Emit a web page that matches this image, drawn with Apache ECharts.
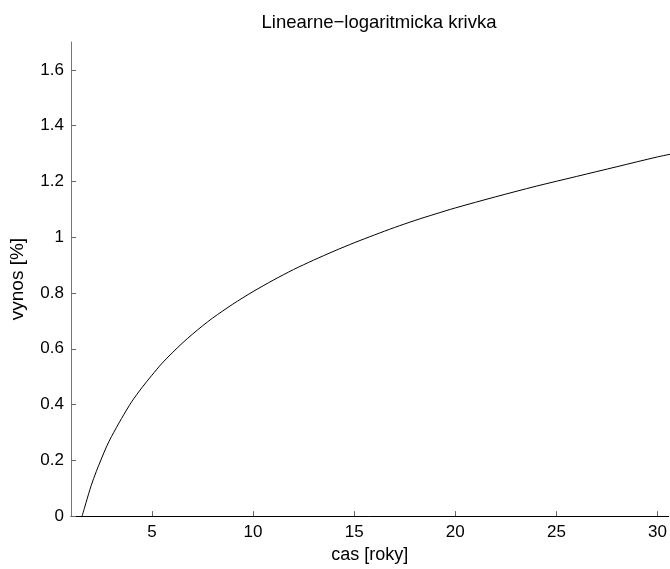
<!DOCTYPE html>
<html>
<head>
<meta charset="utf-8">
<script src="https://cdn.jsdelivr.net/npm/echarts@6/dist/echarts.min.js"></script>
<style>html,body{margin:0;padding:0;background:#fff}#c{width:670px;height:569px}</style>
</head>
<body>
<div id="c"></div>
<script>
var titleText = 'Linearne\u2212logaritmicka krivka';
var xName = 'cas [roky]';
var yName = 'vynos [%]';
var years = [1.55, 1.75, 2, 2.25, 2.5, 2.75, 3, 3.5, 4, 4.5, 5, 5.5, 6, 6.5, 7, 7.5, 8, 9, 10, 11, 12, 13, 14, 15, 16, 17, 18, 19, 20, 22, 24, 26, 28, 30, 31];
var yields = [0, 0.05, 0.11, 0.16, 0.205, 0.248, 0.285, 0.35, 0.41, 0.46, 0.505, 0.548, 0.585, 0.62, 0.652, 0.682, 0.71, 0.76, 0.805, 0.846, 0.884, 0.918, 0.95, 0.98, 1.008, 1.035, 1.06, 1.083, 1.105, 1.145, 1.183, 1.218, 1.253, 1.288, 1.303];
var xTicks = [5, 10, 15, 20, 25, 30];
var yTicks = [0, 0.2, 0.4, 0.6, 0.8, 1, 1.2, 1.4, 1.6];

var points = years.map(function (x, i) { return [x, yields[i]]; });
var FONT = '"Liberation Sans", Arial, Helvetica, sans-serif';
var chart = echarts.init(document.getElementById('c'), null, {renderer: 'canvas'});
chart.setOption({
  animation: false,
  backgroundColor: '#fff',
  title: {
    text: titleText, left: 374, top: 8, textAlign: 'center',
    textStyle: {fontFamily: FONT, fontSize: 18.5, fontWeight: 'normal', color: '#000'}
  },
  grid: {left: 70, top: 42, right: 0, bottom: 48, containLabel: false},
  xAxis: {
    type: 'value', min: 1, max: 30.55,
    name: xName, nameLocation: 'middle', nameGap: 25,
    nameTextStyle: {fontFamily: FONT, fontSize: 18, color: '#000'},
    axisLine: {show: true, onZero: false, lineStyle: {color: '#000', width: 1}},
    axisTick: {show: true, inside: true, length: 5, customValues: xTicks, lineStyle: {color: '#666'}},
    axisLabel: {customValues: xTicks, margin: 8, fontFamily: FONT, fontSize: 17, color: '#000'},
    splitLine: {show: false}
  },
  yAxis: {
    type: 'value', min: 0, max: 1.7,
    name: yName, nameLocation: 'middle', nameGap: 44,
    nameTextStyle: {fontFamily: FONT, fontSize: 19, color: '#000'},
    axisLine: {show: true, onZero: false, lineStyle: {color: '#777', width: 1}},
    axisTick: {show: true, inside: true, length: 5, customValues: yTicks, lineStyle: {color: '#666'}},
    axisLabel: {customValues: yTicks, margin: 7, fontFamily: FONT, fontSize: 17, color: '#000'},
    splitLine: {show: false}
  },
  series: [{
    type: 'line', data: points, smooth: 0.3, showSymbol: false, clip: true,
    lineStyle: {color: '#000', width: 1}
  }]
});
</script>
</body>
</html>
